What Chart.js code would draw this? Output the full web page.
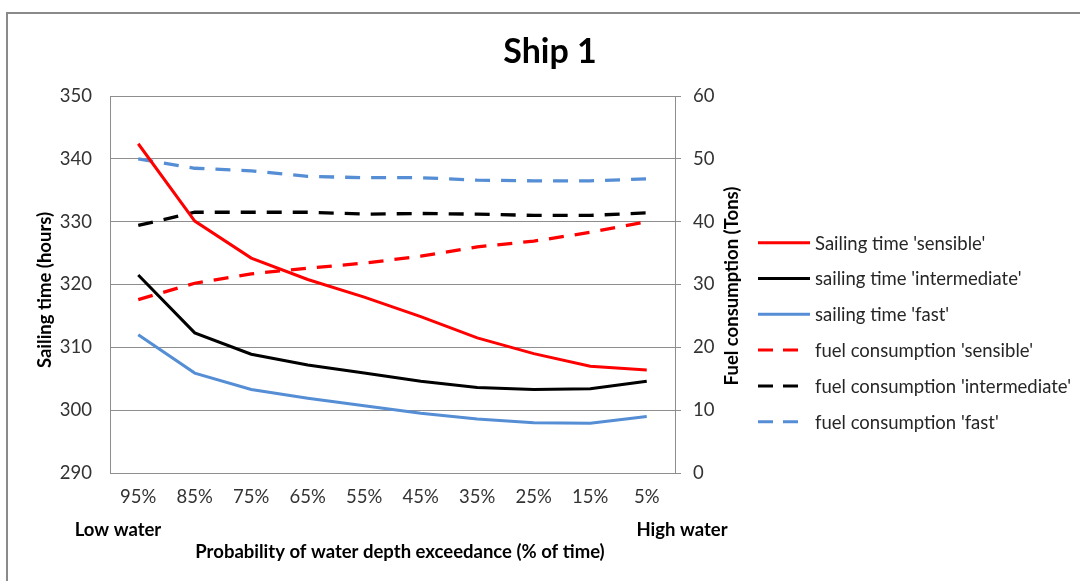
<!DOCTYPE html>
<html>
<head>
<meta charset="utf-8">
<script src="https://cdn.jsdelivr.net/npm/chart.js@4.4.1/dist/chart.umd.min.js"></script>
<style>
  html, body { margin:0; padding:0; background:#fff; overflow:hidden; }
  #wrap { position:relative; width:1080px; height:581px; }
  #frame { position:absolute; left:6px; top:12px; width:1200px; height:700px; border:2px solid #8a8a8a; box-sizing:border-box; }
  #c { position:absolute; left:0; top:0; }
</style>
</head>
<body>
<div id="wrap"><div id="frame"></div><canvas id="c" width="1080" height="581"></canvas></div>
<script>
const chartTitle = "Ship 1";
const xTitle = "Probability of water depth exceedance (% of time)";
const lowLabel = "Low water";
const highLabel = "High water";
const leftTitle = "Sailing time (hours)";
const rightTitle = "Fuel consumption (Tons)";

const categories = ["95%","85%","75%","65%","55%","45%","35%","25%","15%","5%"];

// left axis (hours)
const sailSensible     = [342.4, 330.1, 324.2, 320.8, 318.0, 314.9, 311.5, 309.0, 307.0, 306.4];
const sailIntermediate = [321.5, 312.3, 308.9, 307.2, 305.9, 304.6, 303.6, 303.3, 303.4, 304.6];
const sailFast         = [312.0, 305.9, 303.3, 301.9, 300.7, 299.5, 298.6, 298.0, 297.9, 299.0];

// right axis (tons)
const fuelSensible     = [27.6, 30.2, 31.7, 32.6, 33.4, 34.5, 36.0, 36.9, 38.3, 40.0];
const fuelIntermediate = [39.4, 41.5, 41.5, 41.5, 41.2, 41.3, 41.2, 41.0, 41.0, 41.4];
const fuelFast         = [50.0, 48.5, 48.1, 47.2, 47.0, 47.0, 46.6, 46.5, 46.5, 46.8];

const leftTicks = { min:290, max:350, step:10 };
const rightTicks = { min:0, max:60, step:10 };

const RED = "#ff0000", BLACK = "#000000", BLUE = "#558ed5";
const GRID = "#8e8e8e";
const TICK_COLOR = "#333333";
const DASH = [15, 11];
const FS = 18.5;

function line(label, data, color, axis, dashed){
  return {
    label, data,
    yAxisID: axis,
    borderColor: color,
    backgroundColor: color,
    borderWidth: dashed ? 3.3 : 3,
    borderDash: dashed ? DASH : [],
    pointRadius: 0,
    tension: 0,
    fill: false
  };
}

// draws title, axis titles, water labels and legend
const decor = {
  id: "decor",
  afterDraw(chart){
    const ctx = chart.ctx;
    ctx.save();
    ctx.fillStyle = "#000";
    ctx.textAlign = "center";
    ctx.textBaseline = "middle";

    ctx.font = "bold 34px Lato";
    ctx.fillText(chartTitle, 550, 52);

    ctx.font = "bold " + FS + "px Lato";
    ctx.fillText(lowLabel, 118, 530);
    ctx.fillText(highLabel, 682, 530);
    ctx.fillText(xTitle, 400, 552);

    ctx.save();
    ctx.translate(45, 290);
    ctx.rotate(-Math.PI/2);
    ctx.fillText(leftTitle, 0, 0);
    ctx.restore();

    ctx.save();
    ctx.translate(732, 286);
    ctx.rotate(-Math.PI/2);
    ctx.fillText(rightTitle, 0, 0);
    ctx.restore();

    // legend
    ctx.font = FS + "px Lato";
    ctx.textAlign = "left";
    chart.data.datasets.forEach((ds, i) => {
      const y = 242.7 + i * 35.8;
      const dashed = ds.borderDash.length > 0;
      ctx.beginPath();
      ctx.setLineDash(dashed ? [15, 10] : []);
      ctx.strokeStyle = ds.borderColor;
      ctx.lineWidth = 3;
      ctx.moveTo(758, y);
      ctx.lineTo(dashed ? 798 : 810, y);
      ctx.stroke();
      ctx.setLineDash([]);
      ctx.fillStyle = "#262626";
      ctx.fillText(ds.label, 815, y + 1);
    });
    ctx.restore();
  }
};

new Chart(document.getElementById("c"), {
  type: "line",
  data: {
    labels: categories,
    datasets: [
      line("Sailing time 'sensible'", sailSensible, RED, "y", false),
      line("sailing time 'intermediate'", sailIntermediate, BLACK, "y", false),
      line("sailing time 'fast'", sailFast, BLUE, "y", false),
      line("fuel consumption 'sensible'", fuelSensible, RED, "y1", true),
      line("fuel consumption 'intermediate'", fuelIntermediate, BLACK, "y1", true),
      line("fuel consumption 'fast'", fuelFast, BLUE, "y1", true)
    ]
  },
  options: {
    responsive: false,
    animation: false,
    devicePixelRatio: 1,
    layout: { padding: { top: 96, left: 0, right: 0, bottom: 0 } },
    plugins: {
      legend: { display: false },
      title: { display: false },
      tooltip: { enabled: false }
    },
    scales: {
      x: {
        offset: true,
        grid: { display: false, drawTicks: false },
        border: { display: true, color: GRID, width: 1 },
        ticks: { color: TICK_COLOR, font: { family: "Lato", size: FS }, padding: 13, maxRotation: 0 },
        afterFit(s){ s.height = 108; }
      },
      y: {
        position: "left",
        min: leftTicks.min, max: leftTicks.max,
        ticks: { stepSize: leftTicks.step, color: TICK_COLOR, font: { family: "Lato", size: FS }, padding: 18 },
        grid: { color: GRID, lineWidth: 1, drawTicks: false },
        border: { display: true, color: GRID, width: 1 },
        afterFit(s){ s.width = 110; }
      },
      y1: {
        position: "right",
        min: rightTicks.min, max: rightTicks.max,
        ticks: { stepSize: rightTicks.step, color: TICK_COLOR, font: { family: "Lato", size: FS }, padding: 12 },
        grid: { drawOnChartArea: false, color: GRID, tickLength: 6 },
        border: { display: true, color: GRID, width: 1 },
        afterFit(s){ s.width = 405; }
      }
    }
  },
  plugins: [decor]
});
</script>
</body>
</html>
